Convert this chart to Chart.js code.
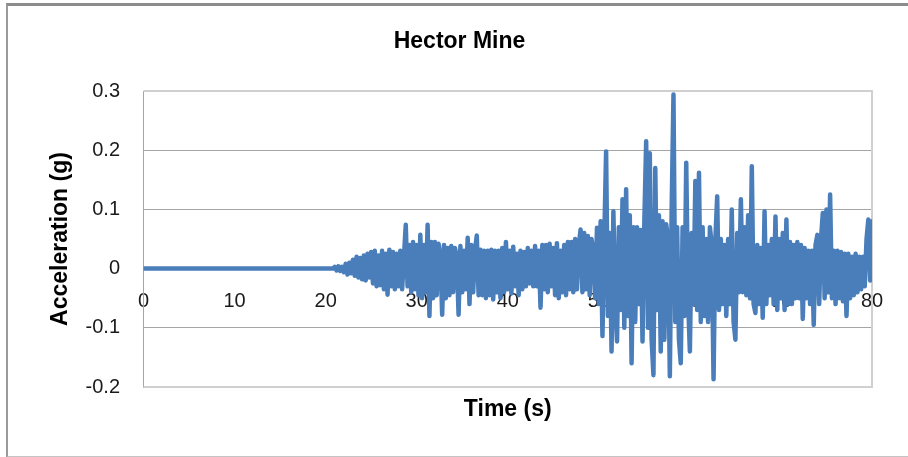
<!DOCTYPE html>
<html>
<head>
<meta charset="utf-8">
<script src="https://cdn.jsdelivr.net/npm/chart.js@4.4.1/dist/chart.umd.min.js"></script>
<style>
    html, body { margin: 0; padding: 0; background: #fff; overflow: hidden; }
    #wrap { position: relative; width: 908px; height: 457px; }
    #frame {
        position: absolute; left: 6px; top: 3px; width: 930px; height: 450px;
        border-top: 3px solid #8c8c8c; border-left: 2px solid #9a9a9a; border-bottom: 2px solid #c4c4c4;
    }
    #accChart { position: absolute; left: 0; top: 0; }
</style>
</head>
<body>
<div id="wrap">
    <div id="frame"></div>
    <canvas id="accChart" width="908" height="457"></canvas>
</div>
<script>
// 기록 전 구간 (거의 0)
const preEventTimes = [0, 10, 20.8];
const preEventAccel = [0, 0, 0];

// 본 기록: 21초부터 0.2초 간격 (1초당 5개)
const recordStart = 21;
const sampleStep = 0.2;
const accel = [
    0.003, -0.003, 0.004, -0.004, 0.003,      // 21
    -0.006, 0.008, -0.01, 0.01, -0.008,       // 22
    0.015, -0.012, 0.02, -0.015, 0.018,       // 23
    -0.018, 0.022, -0.02, 0.025, -0.015,      // 24
    0.028, -0.025, 0.03, -0.03, 0.022,        // 25
    -0.028, 0.03, -0.035, 0.025, -0.044,      // 26
    0.032, -0.03, 0.028, -0.035, 0.025,       // 27
    -0.03, 0.03, -0.035, 0.02, 0.074,         // 28
    -0.03, 0.04, -0.04, 0.045, -0.035,        // 29
    0.04, -0.045, 0.057, -0.05, 0.04,         // 30
    -0.04, 0.074, -0.08, 0.045, -0.05,        // 31
    0.045, -0.045, 0.042, 0.02, -0.078,       // 32
    0.04, -0.05, 0.035, -0.045, 0.038,        // 33
    -0.04, 0.035, 0.02, -0.078, 0.038,        // 34
    -0.04, 0.03, -0.035, 0.052, -0.06,        // 35
    0.04, -0.04, 0.03, 0.056, -0.045,         // 36
    0.032, -0.045, 0.03, -0.05, 0.03,         // 37
    -0.045, 0.032, -0.052, 0.03, -0.04,       // 38
    0.03, -0.05, 0.035, -0.04, 0.045,         // 39
    -0.035, 0.03, -0.042, 0.037, -0.03,       // 40
    0.025, -0.045, 0.03, -0.035, 0.028,       // 41
    -0.03, 0.035, -0.025, 0.03, -0.03,        // 42
    0.038, -0.03, 0.03, -0.066, 0.04,         // 43
    -0.035, 0.04, -0.04, 0.042, -0.03,        // 44
    0.035, -0.045, 0.043, -0.05, 0.03,        // 45
    -0.04, 0.04, -0.045, 0.045, -0.035,       // 46
    0.045, -0.04, 0.05, -0.035, 0.04,         // 47
    0.066, -0.04, 0.06, -0.035, 0.055,        // 48
    -0.045, 0.05, 0.03, -0.05, 0.069,         // 49
    -0.06, 0.08, -0.114, 0.05, 0.198,         // 50
    -0.08, 0.06, -0.14, 0.097, -0.06,         // 51
    -0.123, 0.07, -0.07, 0.117, -0.1,         // 52
    0.134, -0.08, 0.09, -0.16, 0.07,          // 53
    -0.09, 0.07, -0.06, 0.065, -0.123,        // 54
    0.08, 0.215, -0.1, 0.195, -0.12,          // 55
    -0.18, 0.17, -0.07, 0.09, -0.14,          // 56
    0.08, -0.12, 0.075, 0.05, -0.182,         // 57
    0.1, 0.294, -0.09, 0.07, -0.12,           // 58
    -0.16, 0.07, -0.08, 0.179, -0.05,         // 59
    -0.14, 0.06, -0.06, 0.148, -0.07,         // 60
    0.162, -0.09, 0.07, -0.08, 0.05,          // 61
    -0.09, 0.07, 0.04, -0.187, 0.05,          // 62
    0.122, -0.07, 0.05, -0.06, 0.04,          // 63
    -0.08, 0.05, -0.06, 0.1, -0.09,           // 64
    -0.12, 0.06, -0.04, 0.117, -0.04,         // 65
    0.07, -0.045, 0.09, -0.05, 0.173,         // 66
    -0.06, -0.075, 0.04, -0.06, 0.035,        // 67
    -0.083, 0.097, -0.06, 0.04, -0.045,       // 68
    0.05, -0.06, 0.088, -0.07, 0.05,          // 69
    -0.05, 0.06, -0.07, 0.083, -0.06,         // 70
    0.045, -0.06, 0.04, -0.05, 0.045,         // 71
    -0.05, 0.04, -0.085, 0.035, -0.05,        // 72
    0.03, -0.06, 0.03, -0.095, 0.04,          // 73
    0.057, -0.06, 0.05, 0.094, -0.05,         // 74
    0.1, -0.04, 0.125, -0.05, 0.03,           // 75
    -0.06, 0.03, -0.05, 0.028, -0.055,        // 76
    0.025, -0.08, 0.025, -0.05, 0.02,         // 77
    -0.045, 0.025, -0.04, 0.02, -0.035,       // 78
    0.02, -0.03, 0.05, 0.083, -0.02,          // 79
    0.08                                      // 80
];

const xTicks = { min: 0, max: 80, step: 10 };
const yTicks = { min: -0.2, max: 0.3, step: 0.1 };

const chartTitle = 'Hector Mine';
const xTitle = 'Time (s)';
const yTitle = 'Acceleration (g)';

const points = preEventTimes.map((t, i) => ({ x: t, y: preEventAccel[i] }))
    .concat(accel.map((v, i) => ({ x: recordStart + i * sampleStep, y: v })));

// 플롯 영역 테두리 (엑셀 스타일)
const plotBorder = {
    id: 'plotBorder',
    beforeDatasetsDraw(chart) {
        const { ctx, chartArea: { left, top, right, bottom } } = chart;
        ctx.save();
        ctx.strokeStyle = '#d0d0d0';
        ctx.lineWidth = 2;
        ctx.beginPath();
        ctx.moveTo(left, top);
        ctx.lineTo(right, top);
        ctx.lineTo(right, bottom);
        ctx.lineTo(left, bottom);
        ctx.stroke();
        ctx.restore();
    }
};

const FONT = "'Liberation Sans', Arial, sans-serif";

new Chart(document.getElementById('accChart'), {
    type: 'line',
    data: {
        datasets: [{
            data: points,
            borderColor: '#4a7ebb',
            borderWidth: 4.5,
            borderJoinStyle: 'round',
            borderCapStyle: 'round',
            pointRadius: 0,
            tension: 0,
            fill: false
        }]
    },
    options: {
        responsive: false,
        animation: false,
        events: [],
        layout: { padding: { left: 47, right: 36, top: 0, bottom: 70 } },
        plugins: {
            legend: { display: false },
            tooltip: { enabled: false },
            title: {
                display: true,
                text: chartTitle,
                color: '#000',
                font: { family: FONT, size: 23, weight: 'bold', lineHeight: 1.2 },
                padding: { top: 28, bottom: 35.4 }
            }
        },
        scales: {
            x: {
                type: 'linear',
                position: { y: 0 },
                min: xTicks.min,
                max: xTicks.max,
                grid: { display: false, drawTicks: false },
                border: { color: '#a5a5a5' },
                ticks: {
                    stepSize: xTicks.step,
                    padding: 21,
                    maxRotation: 0,
                    color: '#1a1a1a',
                    font: { family: FONT, size: 20 }
                },
                title: {
                    display: true,
                    text: xTitle,
                    color: '#000',
                    font: { family: FONT, size: 23, weight: 'bold', lineHeight: 1.2 },
                    padding: { top: 0, bottom: 0 }
                },
                afterFit(scale) { scale.height = 155; }
            },
            y: {
                min: yTicks.min,
                max: yTicks.max,
                grid: {
                    drawTicks: false,
                    lineWidth: 1,
                    color: c => (c.tick && (Math.abs(c.tick.value - yTicks.max) < 1e-6 || Math.abs(c.tick.value - yTicks.min) < 1e-6)) ? '#d0d0d0' : '#a5a5a5'
                },
                border: { color: '#a5a5a5' },
                ticks: {
                    stepSize: yTicks.step,
                    padding: 23.5,
                    color: '#1a1a1a',
                    font: { family: FONT, size: 20 },
                    callback: v => String(Math.round(v * 10) / 10)
                },
                title: {
                    display: true,
                    text: yTitle,
                    color: '#000',
                    font: { family: FONT, size: 23, weight: 'bold', lineHeight: 1.2 },
                    padding: { top: 0, bottom: 0 }
                },
                afterFit(scale) { scale.width = 96.5; }
            }
        }
    },
    plugins: [plotBorder]
});
</script>
</body>
</html>
